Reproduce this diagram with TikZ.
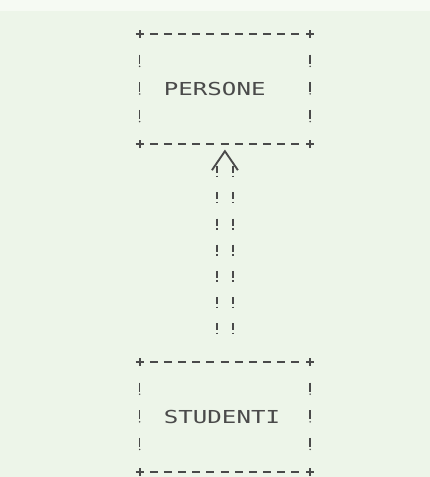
\documentclass[tikz,border=0pt]{standalone}
\usepackage{fontspec}
\newfontfamily\printfont[FakeStretch=1.35]{DejaVu Sans Mono}
\usetikzlibrary{calc}

\definecolor{paper}{HTML}{EDF5E9}
\definecolor{paperedge}{HTML}{F6FAF3}
\definecolor{ink}{HTML}{4A4A4A}

\tikzset{
  entity/.style={minimum width=127.5pt, minimum height=82.5pt,
    inner xsep=18pt, inner ysep=0pt, text width=91.5pt, align=left,
    text=ink, font=\printfont\fontsize{13.4}{14}\selectfont},
  rule/.style={draw=ink, line width=1.4pt},
  dashrule/.style={rule, dash pattern=on 6pt off 4.63pt},
  bang/.style={draw=ink, line width=1.1pt},
  bangs/.style={bang, dash pattern=on 5.25pt off 1.9pt on 1.1pt off 11.38pt}
}

% frame of +, - and ! round a node
\newcommand\asciiframe[1]{%
  \draw[dashrule] ([xshift=7.6pt]#1.north west) -- ([xshift=-7.6pt]#1.north east);
  \draw[dashrule] ([xshift=7.6pt]#1.south west) -- ([xshift=-7.6pt]#1.south east);
  \foreach \c in {north west,north east,south west,south east}
    \draw[rule] ([xshift=-3pt]#1.\c) -- ([xshift=3pt]#1.\c)
                ([yshift=-3pt]#1.\c) -- ([yshift=3pt]#1.\c);
  \foreach \s in {west,east}
    \foreach \f in {0.25,0.5,0.75} {
      \draw[bang] ($(#1.north \s)!\f!(#1.south \s)$) +(0,5pt) -- +(0,-2pt);
      \fill[ink] ($(#1.north \s)!\f!(#1.south \s)$) +(0,-3.75pt) circle (0.65pt);
    }
}

\begin{document}
\begin{tikzpicture}[x=0.75pt, y=-0.75pt]
  \fill[paper] (0,0) rectangle (430,477);
  \fill[paperedge] (0,0) rectangle (430,11);

  \node[entity] (persone) at (225,89) {PERSONE};
  \node[entity] (studenti) at (225,417) {STUDENTI};
  \asciiframe{persone}
  \asciiframe{studenti}

  % inheritance link
  \draw[bangs] ([xshift=-6pt,yshift=-16.5pt]persone.south) -- ([xshift=-6pt,yshift=12.75pt]studenti.north);
  \draw[bangs] ([xshift=6pt,yshift=-16.5pt]persone.south) -- ([xshift=6pt,yshift=12.75pt]studenti.north);
  \draw[rule] ([shift={(-9.75pt,-19.5pt)}]persone.south) -- ([yshift=-5.25pt]persone.south)
    -- ([shift={(9.75pt,-19.5pt)}]persone.south);
\end{tikzpicture}
\end{document}
